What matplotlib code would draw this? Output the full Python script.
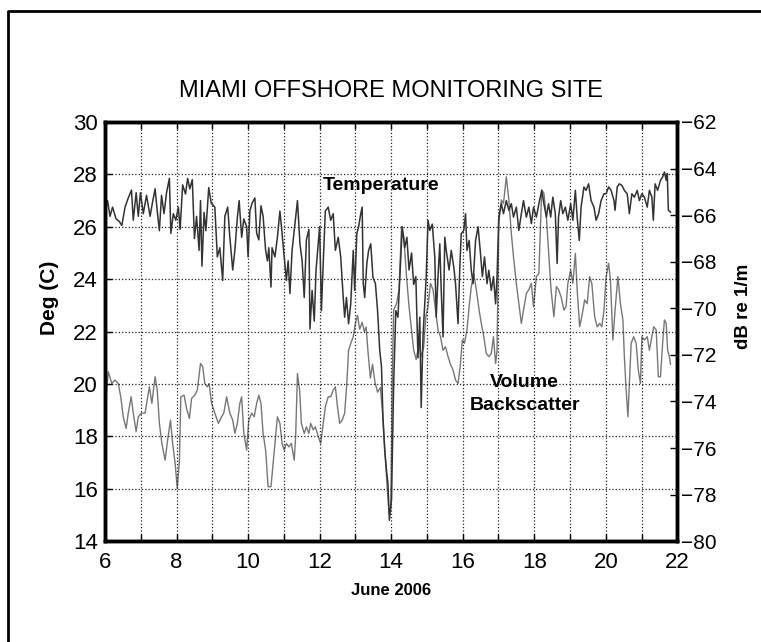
import matplotlib
matplotlib.use('Agg')
import matplotlib.pyplot as plt
from matplotlib.lines import Line2D
from matplotlib.ticker import MultipleLocator

plt.rcParams['font.family'] = ['Liberation Sans', 'DejaVu Sans']

# temperature (deg C)
temp_day = [6.00, 6.07, 6.14, 6.21, 6.31, 6.40, 6.47, 6.56, 6.65, 6.74, 6.79, 6.87, 6.93, 6.99,
            7.07, 7.16, 7.26, 7.33, 7.40, 7.46, 7.52, 7.58, 7.65, 7.72, 7.80, 7.84, 7.91, 7.98,
            8.05, 8.10, 8.17, 8.25, 8.31, 8.37, 8.44, 8.50, 8.56, 8.63, 8.67, 8.71, 8.77, 8.82,
            8.90, 8.97, 9.07, 9.14, 9.21, 9.29, 9.35, 9.43, 9.49, 9.57, 9.63, 9.70, 9.75, 9.82,
            9.88, 9.96, 10.00, 10.05, 10.11, 10.19, 10.24, 10.30, 10.36, 10.42, 10.49, 10.54,
            10.58, 10.64, 10.67, 10.75, 10.82, 10.89, 10.95, 11.01, 11.07, 11.12, 11.17, 11.23,
            11.30, 11.38, 11.45, 11.51, 11.57, 11.63, 11.70, 11.73, 11.79, 11.85, 11.90, 11.96,
            12.00, 12.05, 12.10, 12.16, 12.24, 12.31, 12.38, 12.44, 12.52, 12.59, 12.66, 12.70,
            12.75, 12.81, 12.87, 12.94, 12.98, 13.04, 13.09, 13.15, 13.19, 13.22, 13.26, 13.32,
            13.37, 13.43, 13.49, 13.56, 13.62, 13.68, 13.73, 13.77, 13.82, 13.87, 13.91, 13.95,
            14.01, 14.07, 14.13, 14.19, 14.26, 14.31, 14.38, 14.44, 14.50, 14.57, 14.63, 14.69,
            14.75, 14.80, 14.84, 14.89, 14.94, 14.98, 15.03, 15.08, 15.15, 15.22, 15.26, 15.31,
            15.36, 15.40, 15.45, 15.50, 15.54, 15.62, 15.68, 15.75, 15.80, 15.87, 15.92, 15.96,
            16.03, 16.08, 16.12, 16.18, 16.24, 16.29, 16.36, 16.43, 16.49, 16.55, 16.61, 16.68,
            16.73, 16.80, 16.86, 16.92, 16.96, 17.01, 17.08, 17.14, 17.22, 17.29, 17.36, 17.42,
            17.50, 17.57, 17.64, 17.70, 17.78, 17.85, 17.92, 17.98, 18.06, 18.13, 18.21, 18.27,
            18.34, 18.40, 18.46, 18.52, 18.59, 18.64, 18.68, 18.74, 18.80, 18.87, 18.94, 19.02,
            19.08, 19.15, 19.20, 19.26, 19.31, 19.39, 19.45, 19.52, 19.59, 19.67, 19.73, 19.80,
            19.87, 19.95, 20.01, 20.08, 20.15, 20.23, 20.26, 20.32, 20.38, 20.45, 20.52, 20.60,
            20.66, 20.73, 20.80, 20.88, 20.94, 21.01, 21.08, 21.16, 21.22, 21.29, 21.33, 21.38,
            21.45, 21.53, 21.59, 21.64, 21.69, 21.72, 21.75, 21.81]
temp_val = [26.5, 27.0, 26.4, 26.75, 26.3, 26.2, 26.05, 26.75, 27.1, 27.4, 26.25, 27.3, 26.4, 27.3,
            26.5, 27.2, 26.4, 26.95, 27.45, 26.6, 25.85, 27.2, 26.5, 27.3, 27.85, 25.75, 26.5, 26.25,
            26.75, 25.9, 27.6, 27.25, 27.85, 27.45, 27.8, 25.55, 26.4, 25.1, 27.0, 24.5, 26.55, 25.85,
            27.5, 26.9, 26.75, 24.85, 25.2, 23.95, 26.4, 26.75, 25.6, 24.35, 25.1, 26.35, 27.0, 25.6,
            26.3, 26.0, 24.85, 26.6, 26.9, 27.1, 25.75, 25.5, 26.8, 26.4, 25.1, 24.7,
            25.2, 23.7, 25.2, 24.85, 25.6, 26.6, 25.75, 24.85, 23.95, 24.7, 23.45, 25.1,
            26.0, 27.0, 25.35, 24.7, 23.3, 25.5, 25.9, 22.1, 23.57, 22.4, 24.35, 25.35,
            26.0, 22.8, 24.6, 26.6, 26.75, 26.25, 26.5, 25.1, 25.6, 24.85, 23.3, 22.55,
            23.3, 22.3, 23.06, 25.1, 23.57, 25.74, 26.0, 26.5, 26.75, 23.83, 23.3, 24.6,
            25.1, 25.35, 24.08, 23.83, 22.8, 21.3, 20.65, 18.74, 17.47, 16.7, 16.2, 14.8,
            15.6, 20.0, 22.8, 22.55, 24.6, 26.0, 25.2, 25.6, 24.35, 25.0, 23.8, 24.1,
            21.0, 22.55, 19.1, 21.8, 23.06, 24.1, 26.25, 25.86, 26.1, 24.85, 22.55, 24.1,
            25.35, 23.57, 21.8, 25.6, 25.1, 24.35, 25.1, 24.47, 23.83, 22.3, 24.47, 25.74,
            25.86, 26.5, 25.1, 25.48, 24.34, 23.83, 25.48, 26.0, 25.1, 24.1, 24.85, 23.83,
            24.34, 23.57, 24.1, 23.06, 24.1, 26.37, 26.88, 26.5, 27.0, 26.63, 26.88, 26.37,
            26.75, 25.86, 26.5, 27.0, 26.37, 26.75, 26.12, 26.75, 26.37, 26.88, 27.39, 26.88,
            26.37, 26.88, 26.37, 27.13, 26.5, 24.6, 26.37, 27.0, 26.5, 26.75, 26.25, 26.88,
            26.25, 27.39, 26.37, 25.48, 26.75, 27.52, 27.39, 27.64, 27.0, 26.75, 26.25, 26.5,
            27.0, 27.26, 27.26, 27.52, 27.39, 27.0, 26.63, 27.52, 27.64, 27.58, 27.39, 27.26,
            26.5, 27.26, 27.13, 27.39, 27.0, 27.26, 27.13, 26.75, 27.39, 27.13, 26.25, 27.64,
            27.39, 27.77, 27.9, 28.09, 27.77, 28.03, 26.63, 26.56]

# volume backscatter (dB re 1/m)
bs_day = [6.00, 6.03, 6.09, 6.19, 6.28, 6.37, 6.44, 6.51, 6.59, 6.65, 6.73, 6.79, 6.87, 6.93,
          7.02, 7.12, 7.18, 7.24, 7.31, 7.40, 7.46, 7.52, 7.59, 7.68, 7.75, 7.83, 7.89, 7.96,
          8.02, 8.08, 8.12, 8.21, 8.28, 8.36, 8.42, 8.51, 8.58, 8.67, 8.73, 8.79, 8.86, 8.91,
          8.98, 9.07, 9.17, 9.26, 9.32, 9.40, 9.49, 9.57, 9.63, 9.70, 9.77, 9.82, 9.88, 9.96,
          10.02, 10.10, 10.17, 10.24, 10.30, 10.36, 10.42, 10.49, 10.56, 10.64, 10.70, 10.77,
          10.82, 10.89, 10.95, 11.01, 11.07, 11.14, 11.21, 11.29, 11.33, 11.38, 11.44, 11.49,
          11.57, 11.63, 11.70, 11.75, 11.82, 11.88, 11.96, 12.03, 12.10, 12.16, 12.24, 12.31,
          12.38, 12.44, 12.50, 12.56, 12.63, 12.70, 12.76, 12.81, 12.87, 12.94, 13.00, 13.06,
          13.12, 13.19, 13.25, 13.30, 13.36, 13.42, 13.48, 13.55, 13.62, 13.70, 13.76, 13.82,
          13.88, 13.94, 13.99, 14.03, 14.07, 14.15, 14.22, 14.29, 14.35, 14.43, 14.50, 14.57,
          14.63, 14.70, 14.78, 14.84, 14.91, 14.97, 15.03, 15.10, 15.17, 15.24, 15.31, 15.38,
          15.45, 15.52, 15.59, 15.65, 15.73, 15.80, 15.87, 15.93, 15.99, 16.05, 16.12, 16.18,
          16.24, 16.31, 16.38, 16.46, 16.52, 16.59, 16.66, 16.73, 16.80, 16.86, 16.92, 16.96,
          17.01, 17.08, 17.14, 17.22, 17.29, 17.36, 17.42, 17.50, 17.57, 17.64, 17.70, 17.78,
          17.85, 17.92, 17.98, 18.06, 18.13, 18.21, 18.27, 18.34, 18.40, 18.47, 18.55, 18.62,
          18.68, 18.75, 18.83, 18.89, 18.94, 19.02, 19.08, 19.15, 19.20, 19.27, 19.33, 19.41,
          19.48, 19.55, 19.61, 19.69, 19.76, 19.83, 19.89, 19.95, 20.01, 20.08, 20.13, 20.20,
          20.26, 20.34, 20.41, 20.48, 20.52, 20.57, 20.62, 20.66, 20.71, 20.78, 20.85, 20.91,
          20.97, 21.01, 21.08, 21.16, 21.22, 21.29, 21.34, 21.41, 21.47, 21.53, 21.59, 21.64,
          21.69, 21.73, 21.78, 21.81]
bs_val = [-73.0, -73.8, -72.72, -73.23, -73.08, -73.23, -73.8, -74.66, -75.16, -74.5, -73.8, -74.5,
          -75.3, -74.66, -74.5, -74.5, -73.94, -73.37, -74.08, -72.94, -73.51, -74.94, -75.8, -76.52,
          -75.66, -74.8, -75.8, -76.66, -77.74, -76.52, -73.8, -73.73, -74.3, -74.73, -73.87, -73.73,
          -73.51, -72.37, -72.5, -73.23, -73.37, -73.23, -74.08, -74.5, -74.94, -74.66, -74.5, -73.8,
          -74.5, -74.8, -75.37, -74.94, -74.08, -73.8, -75.37, -76.09, -74.8, -74.5, -74.66, -74.08,
          -73.73, -74.08, -75.37, -76.09, -77.66, -77.66, -76.66, -75.5, -74.66, -74.94, -75.8, -76.09,
          -75.8, -75.95, -75.8, -76.52, -75.5, -72.8, -73.51, -74.94, -75.37, -75.09, -75.37, -74.94,
          -75.22, -75.09, -75.5, -75.8, -74.94, -74.23, -73.8, -73.8, -73.51, -73.37, -74.23, -74.94,
          -74.8, -74.5, -73.23, -71.8, -71.51, -71.22, -70.65, -70.3, -70.9, -70.6, -71.0, -70.8,
          -72.0, -73.0, -72.4, -73.2, -73.6, -73.4, -74.5, -76.0, -77.5, -78.8, -78.5, -73.2,
          -70.08, -69.8, -69.2, -66.5, -66.9, -68.64, -69.93, -70.93, -71.8, -72.2, -71.5, -72.07,
          -71.65, -70.36, -69.93, -68.93, -69.2, -70.08, -70.93, -71.22, -71.8, -71.65, -72.07, -72.37,
          -72.65, -73.08, -73.23, -72.5, -71.36, -71.5, -70.93, -69.93, -69.07, -68.5, -69.2, -70.08,
          -70.65, -71.22, -71.94, -72.07, -71.94, -71.22, -72.37, -71.8, -66.35, -65.35, -65.5, -64.35,
          -65.35, -66.78, -67.78, -68.93, -69.8, -70.65, -70.08, -69.36, -69.2, -68.93, -69.93, -68.64,
          -68.5, -64.92, -65.06, -66.07, -67.5, -69.2, -70.36, -69.07, -69.2, -69.5, -70.08, -69.93,
          -68.93, -68.36, -68.93, -67.64, -69.2, -70.79, -70.36, -69.64, -69.8, -68.64, -68.93, -70.36,
          -70.79, -70.65, -70.79, -70.08, -68.64, -68.07, -68.78, -71.36, -70.08, -68.64, -69.8, -70.5,
          -72.07, -73.51, -74.66, -73.23, -71.5, -71.22, -71.5, -72.65, -73.23, -71.22, -71.36, -71.22,
          -71.8, -71.22, -70.79, -70.93, -72.94, -72.94, -71.5, -70.5, -70.65, -71.8, -72.07, -72.4]

x_ticks = [6, 8, 10, 12, 14, 16, 18, 20, 22]
temp_ticks = [14, 16, 18, 20, 22, 24, 26, 28, 30]
bs_ticks = [-80, -78, -76, -74, -72, -70, -68, -66, -64, -62]

fig = plt.figure(figsize=(7.61, 6.42), dpi=100)
ax = fig.add_axes([0.138, 0.157, 0.752, 0.653])
ax2 = ax.twinx()

# backscatter underneath, temperature on top
ax.set_zorder(2)
ax.patch.set_visible(False)
ax2.set_zorder(1)

ax2.plot(bs_day, bs_val, color='#777777', lw=1.0)
ax.plot(temp_day, temp_val, color='#333333', lw=1.1)

ax.set_xlim(6, 22)
ax.set_ylim(14, 30)
ax2.set_ylim(-80, -62)
ax.set_xticks(x_ticks)
ax.xaxis.set_minor_locator(MultipleLocator(1))
ax.set_yticks(temp_ticks)
ax2.set_yticks(bs_ticks)

ax.grid(True, which='both', axis='x', ls=':', color='#222222', lw=0.9)
ax.grid(True, which='major', axis='y', ls=':', color='#222222', lw=0.9)

ax.tick_params(which='both', direction='in', top=True, right=False, length=5, width=1)
ax.tick_params(axis='y', labelsize=16, pad=5)
ax.tick_params(axis='x', labelsize=16, pad=8)
ax2.tick_params(direction='in', length=5, width=1, labelsize=15, pad=3)

for a in (ax, ax2):
    for s in a.spines.values():
        s.set_linewidth(2.5)

ax.set_xlabel('June 2006', fontsize=12, fontweight='bold', labelpad=7)
ax.set_ylabel('Deg (C)', fontsize=15, fontweight='bold')
ax.yaxis.set_label_coords(-0.08, 0.58)
ax2.set_ylabel('dB re 1/m', fontsize=13.5, fontweight='bold')
ax2.yaxis.set_label_coords(1.1, 0.56)
ax.set_title('MIAMI OFFSHORE MONITORING SITE', fontsize=17, pad=18)

ax.text(13.72, 27.56, 'Temperature', fontsize=14, fontweight='bold', ha='center', va='center')
ax.text(17.73, 19.61, 'Volume\nBackscatter', fontsize=14, fontweight='bold',
        ha='center', va='center', linespacing=1.45)

# outer frame, cut off at right and bottom like the original
x0 = 8 / 761
y0 = 1 - 11 / 642
fig.add_artist(Line2D([x0, x0, 1.05], [-0.05, y0, y0], transform=fig.transFigure,
                      color='black', lw=2))

plt.savefig('out.png', dpi=100)
